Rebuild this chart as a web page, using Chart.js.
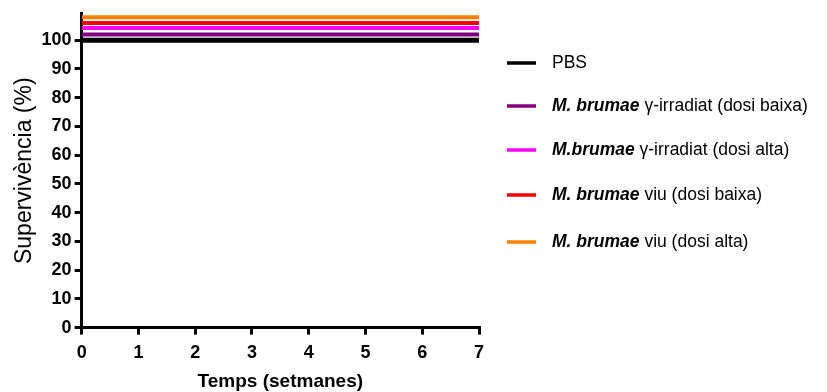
<!DOCTYPE html>
<html>
<head>
<meta charset="utf-8">
<script src="https://cdn.jsdelivr.net/npm/chart.js@4"></script>
<style>
  body { margin: 0; background: #fff; }
</style>
</head>
<body>
<canvas id="survChart" width="827" height="392"></canvas>
<script>
const WEEKS = [0, 7];
const PBS = [100, 100];
const IRR_LOW = [102, 102];
const IRR_HIGH = [104.3, 104.3];
const LIVE_LOW = [106, 106];
const LIVE_HIGH = [108, 108];
const Y_TICKS = [0, 10, 20, 30, 40, 50, 60, 70, 80, 90, 100];

const SERIES = [
  { name: ["", "PBS"], values: PBS, color: "#000000", width: 5 },
  { name: ["M. brumae", " γ-irradiat (dosi baixa)"], values: IRR_LOW, color: "#800080", width: 4 },
  { name: ["M.brumae", " γ-irradiat (dosi alta)"], values: IRR_HIGH, color: "#ff00ff", width: 4 },
  { name: ["M. brumae", " viu (dosi baixa)"], values: LIVE_LOW, color: "#ff0000", width: 4 },
  { name: ["M. brumae", " viu (dosi alta)"], values: LIVE_HIGH, color: "#ff8000", width: 4 }
];

const FONT = "'Liberation Sans', Arial, sans-serif";

// legend drawn by hand because of the mixed italic text
const sideLegend = {
  id: "sideLegend",
  afterDraw(chart) {
    const ctx = chart.ctx;
    const rows = [63, 106, 150, 195, 242];
    ctx.save();
    ctx.textBaseline = "middle";
    SERIES.forEach((s, i) => {
      const y = rows[i];
      ctx.strokeStyle = s.color;
      ctx.lineWidth = 3.5;
      ctx.beginPath();
      ctx.moveTo(507, y);
      ctx.lineTo(536, y);
      ctx.stroke();
      let x = 552;
      ctx.fillStyle = "#000";
      if (s.name[0]) {
        ctx.font = "italic bold 17.5px " + FONT;
        ctx.fillText(s.name[0], x, y);
        x += ctx.measureText(s.name[0]).width;
      }
      ctx.font = "17.5px " + FONT;
      ctx.fillText(s.name[1], x, y);
    });
    ctx.restore();
  }
};

new Chart(document.getElementById("survChart"), {
  type: "line",
  data: {
    datasets: SERIES.map(s => ({
      label: s.name.join(""),
      data: WEEKS.map((w, i) => ({ x: w, y: s.values[i] })),
      borderColor: s.color,
      borderWidth: s.width,
      pointRadius: 0,
      stepped: true,
      fill: false
    })).reverse()
  },
  options: {
    responsive: false,
    animation: false,
    devicePixelRatio: 1,
    layout: { padding: { left: 7, right: 348, top: 8, bottom: -5 } },
    plugins: { legend: { display: false }, tooltip: { enabled: false } },
    scales: {
      x: {
        type: "linear",
        min: 0,
        max: 7,
        ticks: { stepSize: 1, color: "#000", font: { family: FONT, size: 18, weight: "bold" }, padding: 8 },
        grid: { drawOnChartArea: false, drawTicks: true, tickLength: 7, color: "#000", lineWidth: 3 },
        border: { display: true, color: "#000", width: 3 },
        title: { display: true, text: "Temps (setmanes)", color: "#000", font: { family: FONT, size: 19, weight: "bold" }, padding: { top: -2 } }
      },
      y: {
        min: 0,
        max: 109.2,
        afterBuildTicks: scale => { scale.ticks = Y_TICKS.map(v => ({ value: v })); },
        ticks: { color: "#000", font: { family: FONT, size: 18, weight: "bold" }, padding: 3 },
        grid: { drawOnChartArea: false, drawTicks: true, tickLength: 7, color: "#000", lineWidth: 3 },
        border: { display: true, color: "#000", width: 3 },
        title: { display: true, text: "Supervivència (%)", color: "#000", font: { family: FONT, size: 23 }, padding: { bottom: 0 } }
      }
    }
  },
  plugins: [sideLegend]
});
</script>
</body>
</html>
